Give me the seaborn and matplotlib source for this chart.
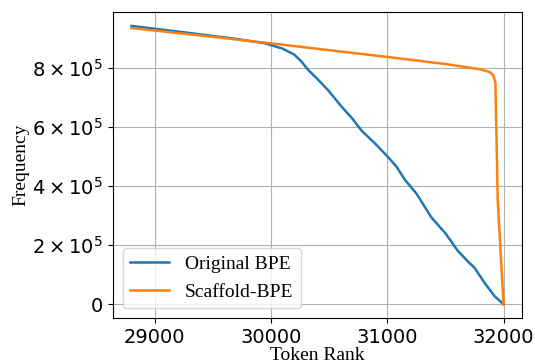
import matplotlib
matplotlib.use("Agg")
import matplotlib.pyplot as plt
import seaborn as sns
import pandas as pd
from matplotlib.ticker import FuncFormatter

# Data
orig_rank = [28800, 29300, 29700, 29950, 30100, 30200, 30260, 30320, 30400, 30492,
             30600, 30700, 30778, 30900, 31007, 31080, 31150, 31250, 31379, 31500,
             31608, 31700, 31751, 31837, 31880, 31923, 32000]
orig_freq = [9.42e5, 9.18e5, 8.98e5, 8.83e5, 8.65e5, 8.45e5, 8.22e5, 7.93e5, 7.62e5, 7.24e5,
             6.72e5, 6.28e5, 5.88e5, 5.42e5, 4.98e5, 4.65e5, 4.22e5, 3.75e5, 2.94e5, 2.40e5,
             1.80e5, 1.42e5, 1.23e5, 0.72e5, 0.50e5, 0.27e5, 0.0]
scaf_rank = [28800, 29500, 30000, 30500, 31000, 31500, 31800, 31880, 31910, 31930, 31950, 32000]
scaf_freq = [9.35e5, 9.05e5, 8.83e5, 8.60e5, 8.37e5, 8.13e5, 7.95e5, 7.86e5, 7.76e5, 7.50e5, 3.50e5, 0.0]
series_names = ["Original BPE", "Scaffold-BPE"]
x_ticks = [29000, 30000, 31000, 32000]
y_ticks = [0, 2e5, 4e5, 6e5, 8e5]

df = pd.concat([
    pd.DataFrame({"rank": orig_rank, "freq": orig_freq, "method": series_names[0]}),
    pd.DataFrame({"rank": scaf_rank, "freq": scaf_freq, "method": series_names[1]}),
])

fig = plt.figure(figsize=(5.35, 3.64), dpi=100)
ax = fig.add_axes([0.211, 0.126, 0.765, 0.841])
sns.lineplot(data=df, x="rank", y="freq", hue="method", palette=["#1f77b4", "#ff7f0e"],
             linewidth=1.8, ax=ax, sort=False, estimator=None)
ax.grid(True, color="#b0b0b0", linewidth=0.8)
ax.set_axisbelow(True)

def fmt(v, pos):
    if v == 0:
        return "$0$"
    m = v / 1e5
    return r"$%d\times10^{5}$" % round(m)

ax.set_yticks(y_ticks)
ax.yaxis.set_major_formatter(FuncFormatter(fmt))
ax.set_xticks(x_ticks)
ax.tick_params(labelsize=14)
serif = ["Liberation Serif", "DejaVu Serif"]
ax.set_xlabel("Token Rank", fontsize=14, family=serif, labelpad=0)
ax.set_ylabel("Frequency", fontsize=14, family=serif, labelpad=2)
leg = ax.legend(loc="lower left", prop={"family": serif, "size": 14}, title=None)
fig.savefig("out.png", dpi=100)
